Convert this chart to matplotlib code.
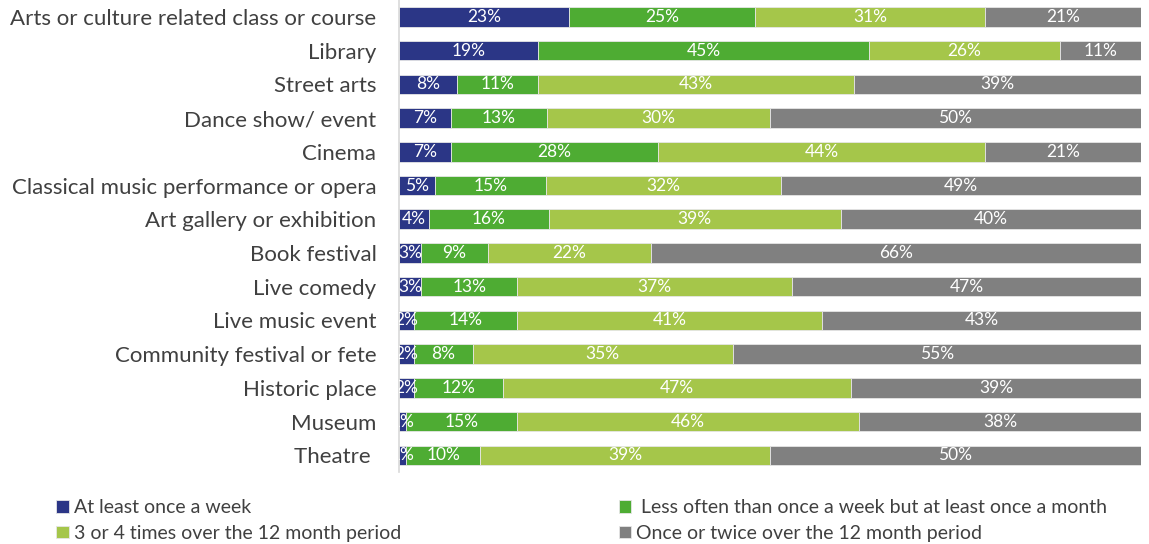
import numpy as np
import matplotlib.pyplot as plt

categories = [
    "Arts or culture related class or course",
    "Library",
    "Street arts",
    "Dance show/ event",
    "Cinema",
    "Classical music performance or opera",
    "Art gallery or exhibition",
    "Book festival",
    "Live comedy",
    "Live music event",
    "Community festival or fete",
    "Historic place",
    "Museum",
    "Theatre ",
]

weekly = [23, 19, 8, 7, 7, 5, 4, 3, 3, 2, 2, 2, 1, 1]
monthly = [25, 45, 11, 13, 28, 15, 16, 9, 13, 14, 8, 12, 15, 10]
three_four = [31, 26, 43, 30, 44, 32, 39, 22, 37, 41, 35, 47, 46, 39]
once_twice = [21, 11, 39, 50, 21, 49, 40, 66, 47, 43, 55, 39, 38, 50]

series_names = [
    "At least once a week",
    " Less often than once a week but at least once a month",
    "3 or 4 times over the 12 month period",
    "Once or twice over the 12 month period",
]
colors = ["#2B3686", "#4EAC33", "#A5C64A", "#808080"]

plt.rcParams["font.family"] = ["Lato", "DejaVu Sans"]

data = np.array([weekly, monthly, three_four, once_twice], dtype=float)
# stretch each row to the full width so every bar ends at 100%
shares = data / data.sum(axis=0) * 100

fig = plt.figure(figsize=(11.49, 5.44), dpi=100)
ax = fig.add_axes([0.347, 0.132, 0.646, 0.868])

y = np.arange(len(categories))
left = np.zeros(len(categories))
handles = []
for vals, shr, name, col in zip(data, shares, series_names, colors):
    bars = ax.barh(y, shr, left=left, height=0.58, color=col,
                   edgecolor="#E6E6E6", linewidth=0.6, label=name)
    handles.append(bars)
    for yi, l, w, v in zip(y, left, shr, vals):
        ax.text(l + w / 2, yi, f"{int(v)}%", ha="center", va="center",
                color="white", fontsize=12.5, clip_on=True)
    left += shr

ax.set_xlim(0, 100)
ax.set_ylim(len(categories) - 0.5, -0.5)
ax.set_yticks(y)
ax.set_yticklabels(categories, fontsize=16, color="#404040")
ax.tick_params(axis="y", length=0, pad=16)
ax.set_xticks([])
for side in ["top", "right", "bottom"]:
    ax.spines[side].set_visible(False)
ax.spines["left"].set_color("#D9D9D9")
ax.spines["left"].set_linewidth(1.2)

# two columns filled row by row
order = [0, 2, 1, 3]
fig.legend(handles=[handles[i] for i in order],
           labels=[series_names[i] for i in order],
           loc="lower left", bbox_to_anchor=(0.049, 0.004), ncol=2,
           frameon=False, fontsize=14, labelcolor="#404040",
           handlelength=0.65, handleheight=0.65, handletextpad=0.25,
           columnspacing=11.2, borderaxespad=0, borderpad=0,
           labelspacing=0.45)

fig.savefig("out.png", dpi=100)
